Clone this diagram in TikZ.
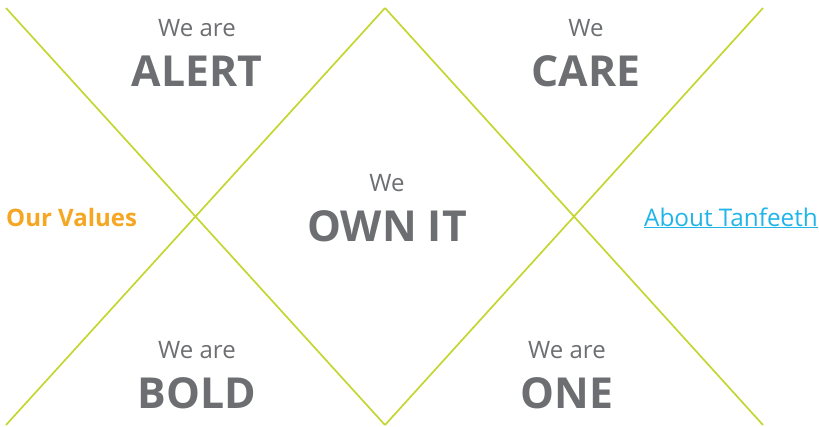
\documentclass[tikz,border=0pt]{standalone}
\usepackage{fontspec}
\setmainfont{Open Sans}
\definecolor{lime}{HTML}{C3D631}
\definecolor{txtgray}{HTML}{6D6E71}
\definecolor{orng}{HTML}{F5A623}
\definecolor{lnkblue}{HTML}{1FB5E8}
\begin{document}
\begin{tikzpicture}[x=1pt,y=-1pt,
  diag/.style={draw=lime,line width=1.7pt},
  small/.style={text=txtgray,font=\fontsize{24}{26}\selectfont,inner sep=0pt,anchor=base},
  big/.style={text=txtgray,font=\fontsize{42.7}{46}\selectfont\bfseries,inner sep=0pt,anchor=base}]
\useasboundingbox (0,0) rectangle (819,426);
\coordinate (tl) at (6,8);
\coordinate (tm) at (385,8);
\coordinate (tr) at (763,8);
\coordinate (bl) at (6,425);
\coordinate (bm) at (385,425);
\coordinate (br) at (763,425);
\draw[diag] (tl) -- (bm);
\draw[diag] (tm) -- (bl);
\draw[diag] (tm) -- (br);
\draw[diag] (tr) -- (bm);
\node[small] (w1) at (197,36) {We are};
\node[big] (t1) at (197,86) {ALERT};
\node[small] (w2) at (586,36) {We};
\node[big] (t2) at (586,86) {CARE};
\node[small] (w3) at (387,191) {We};
\node[big] (t3) at (387,241) {OWN IT};
\node[small] (w4) at (197,358) {We are};
\node[big] (t4) at (197,408) {BOLD};
\node[small] (w5) at (567,358) {We are};
\node[big] (t5) at (567,408) {ONE};
\node[text=orng,font=\fontsize{24}{26}\selectfont\bfseries,inner sep=0pt,anchor=base west] (ov) at (6,226) {Our Values};
\node[text=lnkblue,font=\fontsize{24.3}{26}\selectfont,inner sep=0pt,anchor=base east] (at) at (818,226) {\underline{About Tanfeeth}};
\end{tikzpicture}
\end{document}
